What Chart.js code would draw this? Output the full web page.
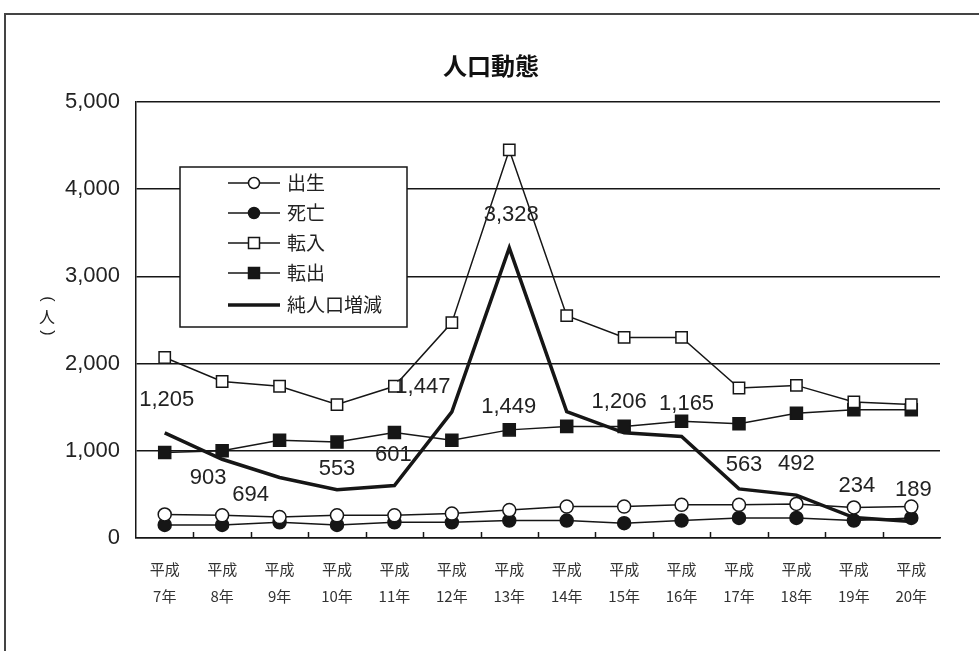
<!DOCTYPE html>
<html lang="ja">
<head>
<meta charset="utf-8">
<title>人口動態</title>
<script src="https://cdn.jsdelivr.net/npm/chart.js@4/dist/chart.umd.min.js"></script>
<style>
  html, body { margin: 0; padding: 0; background: #fff; }
  #wrap { position: relative; width: 979px; height: 651px; }
</style>
</head>
<body>
<div id="wrap"><canvas id="chart"></canvas></div>
<script>
// 年次（平成7年〜20年）
const eraNames = ['平成','平成','平成','平成','平成','平成','平成','平成','平成','平成','平成','平成','平成','平成'];
const years = ['7年','8年','9年','10年','11年','12年','13年','14年','15年','16年','17年','18年','19年','20年'];

// 人口動態の各系列（人）
const births     = [270, 260, 240, 260, 260, 280, 320, 360, 360, 380, 380, 390, 350, 360];
const deaths     = [150, 150, 180, 150, 180, 180, 200, 200, 170, 200, 230, 230, 200, 230];
const movedIn    = [2070, 1795, 1740, 1530, 1740, 2470, 4450, 2550, 2300, 2300, 1720, 1750, 1560, 1530];
const movedOut   = [980, 1000, 1120, 1100, 1210, 1120, 1240, 1280, 1280, 1340, 1310, 1430, 1470, 1470];
const netChange  = [1205, 903, 694, 553, 601, 1447, 3328, 1449, 1206, 1165, 563, 492, 234, 189];

// 縦軸の目盛
const yTicks = [0, 1000, 2000, 3000, 4000, 5000];

const categories = eraNames.map((e, i) => [e, years[i]]);

// 純人口増減ラベルの表示位置（点からのずれ）
const netLabelShift = [
  [2, -33], [-14, 19], [-29, 17], [0, -21], [-1, -31], [-29, -25], [2, -33],
  [-58, -5], [-5, -31], [5, -32], [5, -24], [0, -31], [3, -32], [2, -32]
];

const INK = '#161616';
const LATIN = '"Liberation Sans", "Noto Sans CJK JP", sans-serif';
const CJK = '"Noto Sans CJK JP", "Liberation Sans", sans-serif';

const fmt = v => v.toLocaleString('en-US');

// 回転した括弧を描く（縦書き用）
function drawTurned(ctx, ch, x, y, angle) {
  ctx.save();
  ctx.translate(x, y);
  ctx.rotate(angle);
  ctx.fillText(ch, 0, 0);
  ctx.restore();
}

// 枠・タイトル・縦軸タイトル・凡例・値ラベル・目盛線
const decorations = {
  id: 'decorations',
  beforeDraw(chart) {
    const ctx = chart.ctx;
    ctx.save();
    ctx.fillStyle = '#fff';
    ctx.fillRect(0, 0, chart.width, chart.height);
    // 外枠
    ctx.strokeStyle = '#444';
    ctx.lineWidth = 2;
    ctx.beginPath();
    ctx.moveTo(5, chart.height + 2);
    ctx.lineTo(5, 14);
    ctx.lineTo(chart.width + 2, 14);
    ctx.stroke();
    // タイトル
    ctx.fillStyle = '#111';
    ctx.font = 'bold 24px ' + CJK;
    ctx.textAlign = 'center';
    ctx.textBaseline = 'middle';
    ctx.fillText('人口動態', 491, 66);
    // 縦軸タイトル（縦書き）
    ctx.fillStyle = '#222';
    ctx.font = '16px ' + LATIN;
    drawTurned(ctx, '(', 47, 299, Math.PI / 2);
    ctx.font = '16px ' + CJK;
    ctx.fillText('人', 47, 317);
    ctx.font = '16px ' + LATIN;
    drawTurned(ctx, ')', 47, 333, Math.PI / 2);
    ctx.restore();
  },
  afterDatasetsDraw(chart) {
    const ctx = chart.ctx;
    const area = chart.chartArea;
    const xs = chart.scales.x;
    ctx.save();
    // 横軸の内向き目盛
    ctx.strokeStyle = INK;
    ctx.lineWidth = 1.5;
    ctx.beginPath();
    for (let i = 0; i < categories.length - 1; i++) {
      const x = Math.round((xs.getPixelForValue(i) + xs.getPixelForValue(i + 1)) / 2) + 0.5;
      ctx.moveTo(x, area.bottom);
      ctx.lineTo(x, area.bottom - 6);
    }
    ctx.stroke();

    // 純人口増減の値ラベル
    const meta = chart.getDatasetMeta(4);
    ctx.fillStyle = '#222';
    ctx.font = '22px ' + LATIN;
    ctx.textAlign = 'center';
    ctx.textBaseline = 'middle';
    meta.data.forEach((pt, i) => {
      const [dx, dy] = netLabelShift[i];
      ctx.fillText(fmt(netChange[i]), pt.x + dx, pt.y + dy);
    });

    // 凡例
    const bx = area.left + 44, by = area.top + 65, bw = 227, bh = 160;
    ctx.fillStyle = '#fff';
    ctx.fillRect(bx, by, bw, bh);
    ctx.strokeStyle = INK;
    ctx.lineWidth = 1.5;
    ctx.strokeRect(bx, by, bw, bh);
    const rowY = [16, 46, 76, 106, 138];
    chart.data.datasets.forEach((ds, i) => {
      const y = by + rowY[i];
      const x0 = bx + 48, x1 = bx + 100, xm = (x0 + x1) / 2;
      ctx.strokeStyle = INK;
      ctx.lineWidth = ds.borderWidth;
      ctx.beginPath();
      ctx.moveTo(x0, y);
      ctx.lineTo(x1, y);
      ctx.stroke();
      if (ds.pointRadius > 0) {
        ctx.lineWidth = 1.5;
        ctx.fillStyle = ds.pointBackgroundColor;
        ctx.beginPath();
        if (ds.pointStyle === 'circle') {
          ctx.arc(xm, y, 5.5, 0, Math.PI * 2);
        } else {
          ctx.rect(xm - 5.5, y - 5.5, 11, 11);
        }
        ctx.fill();
        ctx.stroke();
      }
      ctx.fillStyle = '#222';
      ctx.font = '19px ' + CJK;
      ctx.textAlign = 'left';
      ctx.textBaseline = 'middle';
      ctx.fillText(ds.label, bx + 107, y);
    });
    ctx.restore();
  }
};

const lineSeries = (label, data, style, fill, radius) => ({
  label, data,
  borderColor: INK,
  borderWidth: 1.5,
  pointStyle: style,
  pointRadius: radius,
  pointHoverRadius: radius,
  pointBackgroundColor: fill,
  pointBorderColor: INK,
  pointBorderWidth: 1.5,
  tension: 0
});

new Chart(document.getElementById('chart'), {
  type: 'line',
  data: {
    labels: categories,
    datasets: [
      lineSeries('出生', births, 'circle', '#fff', 6.5),
      lineSeries('死亡', deaths, 'circle', INK, 6.5),
      lineSeries('転入', movedIn, 'rect', '#fff', 8),
      lineSeries('転出', movedOut, 'rect', INK, 8.5),
      {
        label: '純人口増減',
        data: netChange,
        borderColor: INK,
        borderWidth: 3.5,
        pointRadius: 0,
        pointHoverRadius: 0,
        tension: 0
      }
    ]
  },
  options: {
    responsive: true,
    maintainAspectRatio: false,
    animation: false,
    layout: { padding: { left: 0, right: 39, top: 102, bottom: 0 } },
    plugins: {
      legend: { display: false },
      title: { display: false },
      tooltip: { enabled: false }
    },
    scales: {
      x: {
        offset: true,
        grid: { display: false, drawTicks: false },
        border: { display: true, color: INK, width: 1.5 },
        ticks: {
          color: '#333',
          padding: 18,
          maxRotation: 0,
          autoSkip: false,
          font: { family: CJK, size: 15, lineHeight: 1.8 }
        },
        afterFit(scale) { scale.height = 113; }
      },
      y: {
        min: 0,
        max: 5000,
        afterBuildTicks(scale) { scale.ticks = yTicks.map(v => ({ value: v })); },
        grid: { color: INK, lineWidth: 1.5, drawTicks: false },
        border: { display: true, color: INK, width: 1.5 },
        ticks: {
          color: '#222',
          padding: 16,
          font: { family: LATIN, size: 22 },
          callback: v => fmt(v)
        },
        afterFit(scale) { scale.width = 136; }
      }
    }
  },
  plugins: [decorations]
});
</script>
</body>
</html>
